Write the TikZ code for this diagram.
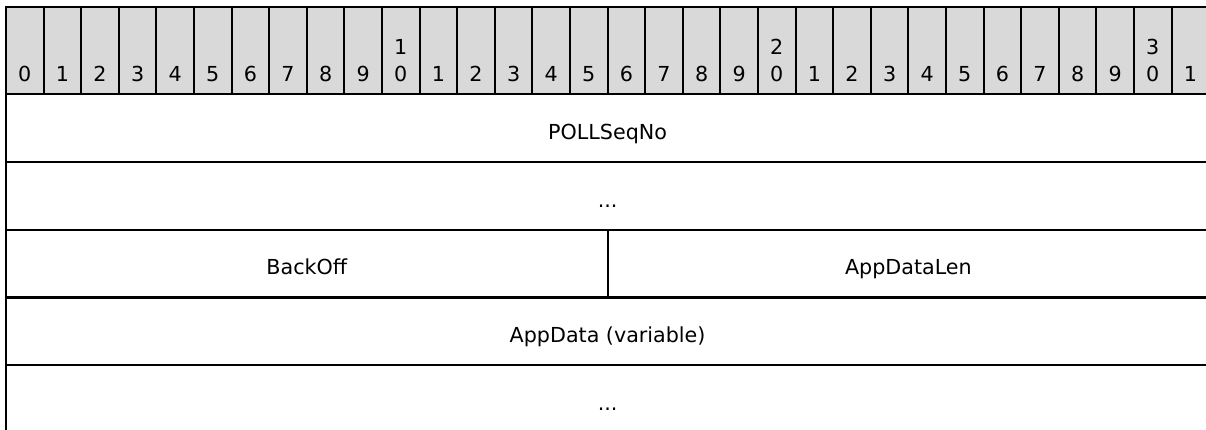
\documentclass[tikz,border=0pt]{standalone}
\usepackage{fontspec}
\setmainfont{DejaVu Sans}
\colorlet{headfill}{black!15}

\begin{document}
\begin{tikzpicture}[x=0.75pt, y=-0.75pt, line width=1.5pt,
    every node/.style={font=\fontsize{15.5}{18}\selectfont, inner sep=0pt},
    bitcell/.style={draw, fill=headfill, minimum width=28.2pt, minimum height=65.25pt},
    field/.style={draw, minimum height=51pt, text height=16.5pt, text depth=0pt},
    word/.style={field, minimum width=902.4pt},
    halfword/.style={field, minimum width=451.2pt}]
  \useasboundingbox (0,0) rectangle (1206,429);

  % header: bit numbers
  \foreach \b in {0,...,31}{
    \pgfmathtruncatemacro\units{mod(\b,10)}
    \pgfmathtruncatemacro\tens{\b/10}
    \node[bitcell] (b\b) at (24.8+37.6*\b, 50.5) {};
    \node[anchor=base] (u\b) at ([yshift=10.5pt]b\b.south) {\units};
    \ifnum\units=0 \ifnum\b>0
      \node[anchor=base] (t\b) at ([yshift=30.75pt]b\b.south) {\tens};
    \fi\fi
  }

  % fields
  \node[word] (seqno) at (607.6,128) {POLLSeqNo};
  \node[word] (dotsa) at (607.6,196) {...};
  \node[halfword] (backoff) at (306.8,263.5) {BackOff};
  \node[halfword] (appdatalen) at (908.4,263.5) {AppDataLen};
  \node[word] (appdata) at (607.6,331) {AppData (variable)};
  \node[word] (dotsb) at (607.6,399) {...};
\end{tikzpicture}
\end{document}
